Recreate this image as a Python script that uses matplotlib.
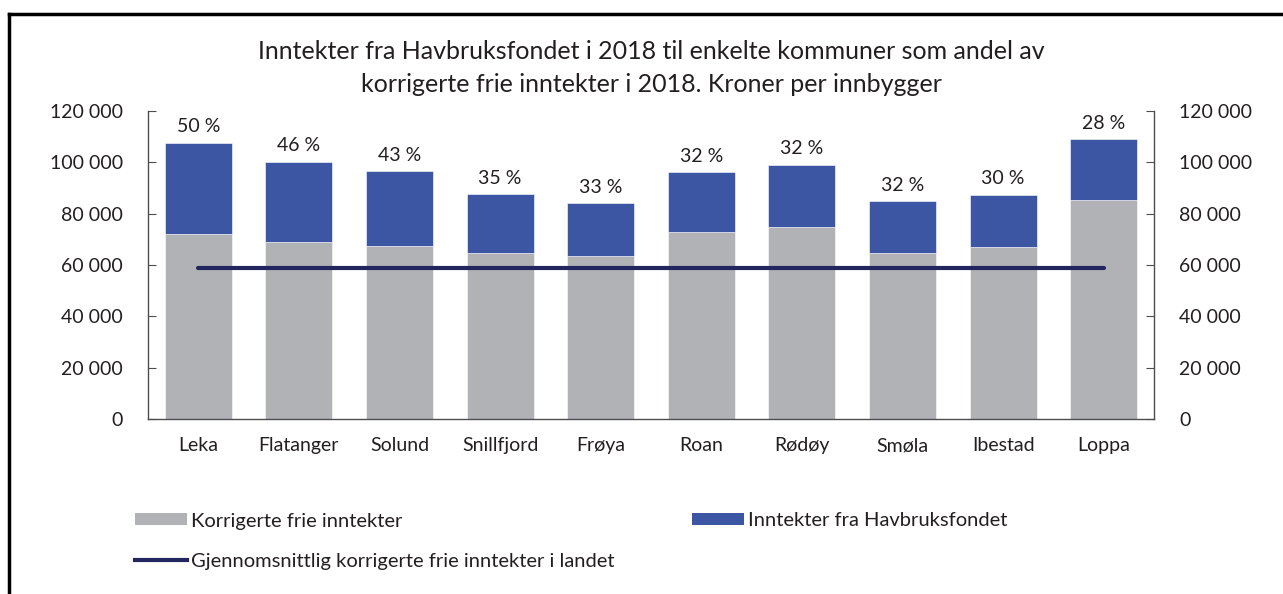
import matplotlib
matplotlib.use("Agg")
import matplotlib.pyplot as plt
from matplotlib.patches import Patch
from matplotlib.lines import Line2D
from matplotlib.ticker import FuncFormatter, MultipleLocator

plt.rcParams['font.family'] = ['Lato', 'DejaVu Sans']

kommuner = ["Leka", "Flatanger", "Solund", "Snillfjord", "Frøya",
            "Roan", "Rødøy", "Smøla", "Ibestad", "Loppa"]
frie_inntekter = [72100, 68800, 67400, 64800, 63500, 72700, 74800, 64700, 67100, 85200]
havbruksfondet = [35600, 31400, 29200, 22800, 20600, 23500, 24200, 20200, 20200, 23800]
andel_labels = ["50 %", "46 %", "43 %", "35 %", "33 %", "32 %", "32 %", "32 %", "30 %", "28 %"]
snitt_landet = 59000

title = ("Inntekter fra Havbruksfondet i 2018 til enkelte kommuner som andel av\n"
         "korrigerte frie inntekter i 2018. Kroner per innbygger")

GRAY = "#B1B2B6"
BLUE = "#3D56A4"
NAVY = "#23255E"
TXT = "#231F20"

fig = plt.figure(figsize=(12.83, 5.94), dpi=100)
ax = fig.add_axes([148/1283, 1-419/594, (1154-148)/1283, (419-111)/594])

x = list(range(len(kommuner)))
w = 0.665
ax.bar(x, frie_inntekter, width=w, color=GRAY, edgecolor="white", linewidth=0.4, zorder=2)
ax.bar(x, havbruksfondet, width=w, bottom=frie_inntekter, color=BLUE,
       edgecolor="white", linewidth=0.4, zorder=2)
ax.plot([x[0], x[-1]], [snitt_landet, snitt_landet], color=NAVY, lw=3,
        solid_capstyle="round", zorder=3)

for xi, b, h, lab in zip(x, frie_inntekter, havbruksfondet, andel_labels):
    ax.annotate(lab, (xi, b + h), xytext=(0, 11.5), textcoords="offset points",
                ha="center", va="center", fontsize=14, color=TXT)

ax.set_xlim(-0.5, 9.5)
ax.set_ylim(0, 120000)
ax.yaxis.set_major_locator(MultipleLocator(20000))
fmt = FuncFormatter(lambda v, p: f"{int(v):,}".replace(",", " "))
ax.yaxis.set_major_formatter(fmt)
ax.set_xticks(x)
ax.set_xticklabels(kommuner)
ax.spines["top"].set_visible(False)
for s in ["left", "right", "bottom"]:
    ax.spines[s].set_color("#4D4D4F")
    ax.spines[s].set_linewidth(1.0)
ax.tick_params(axis="y", which="both", direction="in", length=6, color="#4D4D4F",
               labelsize=14, labelcolor=TXT, pad=18, left=True, right=True,
               labelleft=True, labelright=True)
ax.tick_params(axis="x", length=0, labelsize=14, labelcolor=TXT, pad=13)

fig.text(651/1283, 1-68/594, title, ha="center", va="center", fontsize=18,
         color=TXT, linespacing=1.5)

# legend entries
h_gray = Patch(facecolor=GRAY, edgecolor="none")
h_blue = Patch(facecolor=BLUE, edgecolor="none")
h_line = Line2D([0], [0], color=NAVY, lw=3)
kw = dict(frameon=False, fontsize=14.5, handlelength=2.6, handleheight=0.55,
          handletextpad=0.2, borderpad=0, borderaxespad=0, labelcolor=TXT)
fig.legend([h_gray], ["Korrigerte frie inntekter"], loc="center left",
           bbox_to_anchor=(135/1283, 1-521/594), **kw)
fig.legend([h_blue], ["Inntekter fra Havbruksfondet"], loc="center left",
           bbox_to_anchor=(692/1283, 1-521/594), **kw)
fig.legend([h_line], ["Gjennomsnittlig korrigerte frie inntekter i landet"],
           loc="center left", bbox_to_anchor=(135/1283, 1-561/594), **kw)

# outer frame (top and left)
fig.add_artist(Line2D([9/1283, 1.0], [1-14/594, 1-14/594], color="black", lw=2.5,
                      transform=fig.transFigure))
fig.add_artist(Line2D([9/1283, 9/1283], [1-14/594, 0], color="black", lw=2.5,
                      transform=fig.transFigure))

fig.savefig("out.png", dpi=100)
